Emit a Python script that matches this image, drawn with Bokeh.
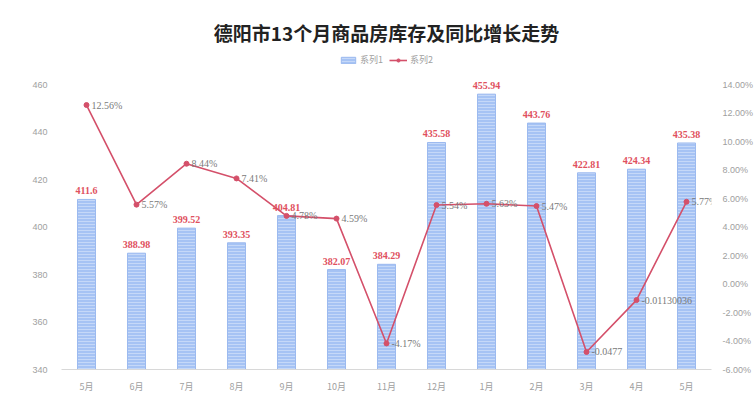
from bokeh.plotting import figure
from bokeh.models import (ColumnDataSource, Range1d, LinearAxis, FixedTicker,
                          PrintfTickFormatter, Legend, LegendItem, LabelSet)
from bokeh.embed import file_html
from bokeh.resources import INLINE

months = ["5月", "6月", "7月", "8月", "9月", "10月", "11月", "12月", "1月", "2月", "3月", "4月", "5月"]
stock = [411.6, 388.98, 399.52, 393.35, 404.81, 382.07, 384.29, 435.58, 455.94, 443.76, 422.81, 424.34, 435.38]
growth = [12.56, 5.57, 8.44, 7.41, 4.78, 4.59, -4.17, 5.54, 5.63, 5.47, -4.77, -1.13, 5.77]
growth_labels = ["12.56%", "5.57%", "8.44%", "7.41%", "4.78%", "4.59%", "-4.17%", "5.54%",
                 "5.63%", "5.47%", "-0.0477", "-0.01130036", "5.77%"]
left_ticks = [340, 360, 380, 400, 420, 440, 460]
right_ticks = [-6, -4, -2, 0, 2, 4, 6, 8, 10, 12, 14]

CJK = "Noto Sans CJK SC"
LAT = "sans-serif"
xs = list(range(len(months)))
src = ColumnDataSource(dict(
    x=xs, stock=stock, growth=growth,
    stock_txt=[f"{v:g}" for v in stock],
    growth_txt=growth_labels,
))

# ranges extended above the top tick to leave room for the legend inside the frame
LEFT_MIN, LEFT_MAX = 340, 476
PCT_MIN = -6
PCT_MAX = PCT_MIN + (LEFT_MAX - LEFT_MIN) * (20 / 120)

p = figure(width=756, height=395, output_backend="svg", toolbar_location=None,
           x_range=Range1d(-0.5, 12.5), y_range=Range1d(LEFT_MIN, LEFT_MAX),
           min_border_left=61, min_border_right=41, min_border_bottom=25,
           min_border_top=46)
p.extra_y_ranges = {"pct": Range1d(PCT_MIN, PCT_MAX)}

p.title.text = "德阳市13个月商品房库存及同比增长走势"
p.title.align = "center"
p.title.vertical_align = "bottom"
p.title.text_font = CJK
p.title.text_font_size = "19px"
p.title.text_font_style = "bold"
p.title.text_color = "#222222"
p.title.standoff = 1

bars = p.vbar(x="x", top="stock", bottom=340, width=0.36, source=src,
              fill_color="#a6c3f4", line_color="#9cbaef", line_width=1,
              hatch_pattern="horizontal_line", hatch_color="white",
              hatch_alpha=0.35, hatch_scale=3, hatch_weight=1)
line = p.line(x="x", y="growth", source=src, y_range_name="pct",
              line_color="#d4506a", line_width=1.6)
pts = p.scatter(x="x", y="growth", source=src, y_range_name="pct",
                size=5, fill_color="#d4506a", line_color="#d4506a")

p.add_layout(LabelSet(x="x", y="stock", text="stock_txt", source=src,
                      text_align="center", text_baseline="bottom", y_offset=5,
                      text_font=LAT, text_font_size="10px", text_font_style="bold",
                      text_color="#e0505e"))
p.add_layout(LabelSet(x="x", y="growth", text="growth_txt", source=src,
                      y_range_name="pct", text_align="left", text_baseline="middle",
                      x_offset=5, text_font=LAT, text_font_size="10px",
                      text_color="#7a7a7a"))

# axes
p.xaxis.ticker = FixedTicker(ticks=xs)
p.xaxis.major_label_overrides = {i: m for i, m in enumerate(months)}
p.yaxis.ticker = FixedTicker(ticks=left_ticks)

right = LinearAxis(y_range_name="pct", ticker=FixedTicker(ticks=right_ticks),
                   formatter=PrintfTickFormatter(format="%.2f%%"))
p.add_layout(right, "right")

for ax in [p.xaxis[0], p.yaxis[0], right]:
    ax.major_tick_line_color = None
    ax.minor_tick_line_color = None
    ax.major_label_text_font = LAT
    ax.major_label_text_font_size = "9px"
    ax.major_label_text_color = "#a0a0a0"
p.xaxis.major_label_text_font = CJK
for ax in [p.yaxis[0], right]:
    ax.axis_line_color = None
p.xaxis.axis_line_color = "#d8d8d8"
p.yaxis.major_label_standoff = 8
right.major_label_standoff = 5
p.xaxis.major_label_standoff = 4

p.xgrid.grid_line_color = None
p.ygrid.grid_line_color = None
p.outline_line_color = None

legend = Legend(items=[LegendItem(label="系列1", renderers=[bars]),
                       LegendItem(label="系列2", renderers=[line, pts])],
                orientation="horizontal", location="top_center",
                label_text_font=CJK, label_text_font_size="9px",
                label_text_color="#a0a0a0", glyph_width=18, glyph_height=8,
                label_standoff=3, spacing=6, padding=2, margin=7,
                border_line_color=None, background_fill_alpha=0)
p.add_layout(legend, "center")

open("out.html", "w").write(file_html(p, INLINE))
